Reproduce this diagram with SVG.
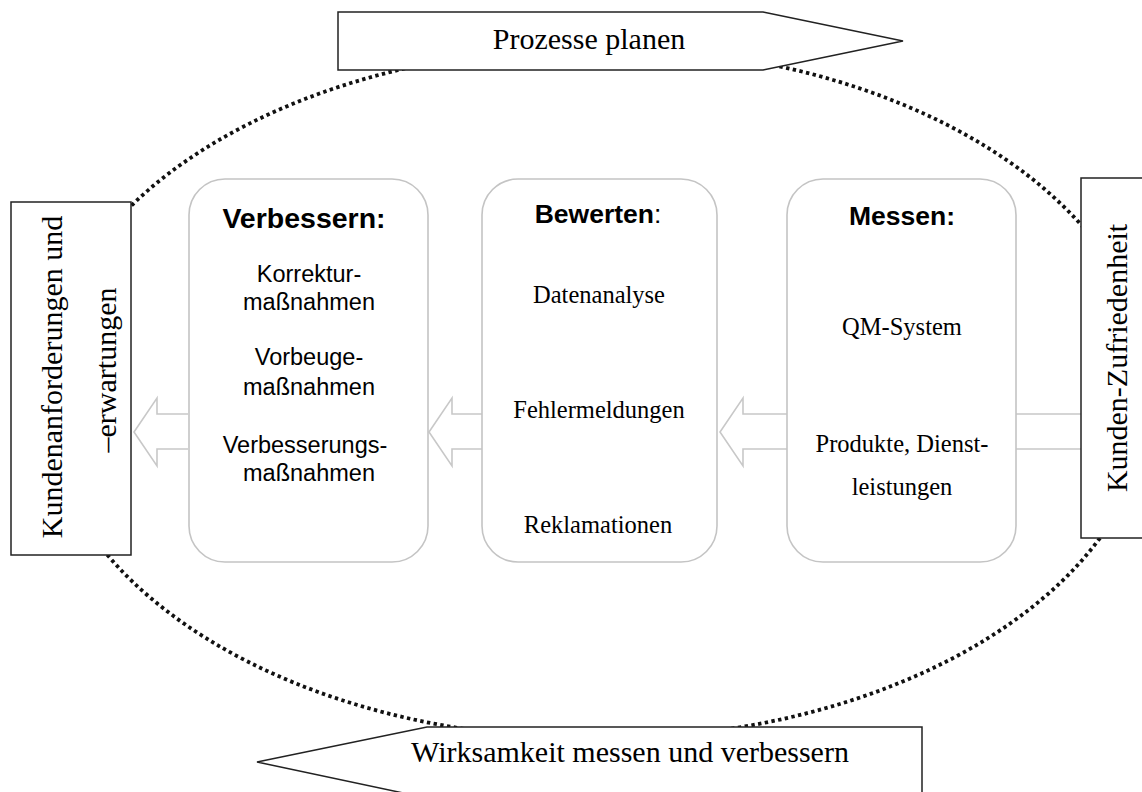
<svg xmlns="http://www.w3.org/2000/svg" width="1142" height="792" viewBox="0 0 1142 792">
<style>
.bg{fill:#ffffff}
.loop{fill:none;stroke:#111;stroke-width:3.8;stroke-dasharray:3.4 3.4}
.frame{fill:#fff;stroke:#222;stroke-width:1.5}
.card{fill:#fff;stroke:#c4c4c4;stroke-width:1.6}
.block{fill:#fff;stroke:#c8c8c8;stroke-width:1.6}
.serif{font-family:"Liberation Serif","Times New Roman",serif;fill:#000}
.sans{font-family:"Liberation Sans",Arial,sans-serif;fill:#000}
.big{font-size:30px}
.head{font-size:26.5px;font-weight:bold}
.body-s{font-size:23.5px}
.body-r{font-size:24.5px}
</style>
<rect class="bg" x="0" y="0" width="1142" height="792"/>
<g id="cycle">
<ellipse class="loop" cx="597" cy="393" rx="554" ry="346"/>
</g>
<g id="connectors">
<path class="block" d="M188,414 H157 V398 L134,432 L157,466 V449 H188"/>
<path class="block" d="M482,414 H452 V398 L429,432 L452,466 V449 H482"/>
<path class="block" d="M787,414 H743 V398 L720,432 L743,466 V449 H787"/>
<path class="block" d="M1016,414 H1081 M1016,449 H1081"/>
</g>
<g id="prozesse-planen">
<path class="frame" d="M338,12 H763 L903,41 L763,70 H338 Z"/>
<text class="serif big" x="589" y="49" text-anchor="middle">Prozesse planen</text>
</g>
<g id="wirksamkeit">
<path class="frame" d="M257,762 L427,727 H922 V815 H507 Z"/>
<text class="serif big" x="630" y="762" text-anchor="middle">Wirksamkeit messen und verbessern</text>
</g>
<g id="kundenanforderungen">
<rect class="frame" x="11" y="202" width="120" height="353"/>
<text class="serif big" transform="translate(62,377) rotate(-90)" text-anchor="middle">Kundenanforderungen und</text>
<text class="serif big" transform="translate(116,370) rotate(-90)" text-anchor="middle">–erwartungen</text>
</g>
<g id="kundenzufriedenheit">
<rect class="frame" x="1081" y="178" width="80" height="360"/>
<text class="serif big" transform="translate(1127,358) rotate(-90)" text-anchor="middle">Kunden-Zufriedenheit</text>
</g>
<g id="verbessern">
<rect class="card" x="189" y="179" width="239" height="383" rx="36" ry="36"/>
<text class="sans" x="304" y="228" text-anchor="middle" font-size="28.5" font-weight="bold">Verbessern:</text>
<text class="sans body-s" x="309" y="282" text-anchor="middle">Korrektur-</text>
<text class="sans body-s" x="309" y="310" text-anchor="middle">maßnahmen</text>
<text class="sans body-s" x="309" y="365" text-anchor="middle">Vorbeuge-</text>
<text class="sans body-s" x="309" y="395" text-anchor="middle">maßnahmen</text>
<text class="sans body-s" x="305" y="453" text-anchor="middle">Verbesserungs-</text>
<text class="sans body-s" x="309" y="481" text-anchor="middle">maßnahmen</text>
</g>
<g id="bewerten">
<rect class="card" x="482" y="179" width="235" height="383" rx="36" ry="36"/>
<text class="sans" x="598" y="223" text-anchor="middle" font-size="26.5"><tspan font-weight="bold">Bewerten</tspan>:</text>
<text class="serif body-r" x="599" y="303" text-anchor="middle">Datenanalyse</text>
<text class="serif body-r" x="599" y="418" text-anchor="middle">Fehlermeldungen</text>
<text class="serif body-r" x="598" y="533" text-anchor="middle">Reklamationen</text>
</g>
<g id="messen">
<rect class="card" x="787" y="179" width="229" height="383" rx="36" ry="36"/>
<text class="sans head" x="902" y="225" text-anchor="middle">Messen:</text>
<text class="serif body-r" x="902" y="335" text-anchor="middle">QM-System</text>
<text class="serif body-r" x="902" y="452" text-anchor="middle">Produkte, Dienst-</text>
<text class="serif body-r" x="902" y="495" text-anchor="middle">leistungen</text>
</g>
</svg>
